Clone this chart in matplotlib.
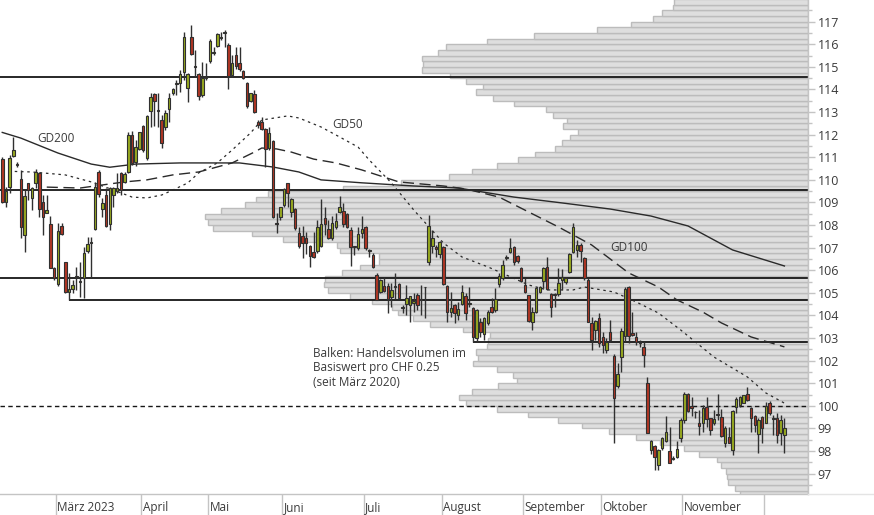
import matplotlib
matplotlib.use("Agg")

import numpy as np
import matplotlib.pyplot as plt
from matplotlib.ticker import MultipleLocator
from matplotlib.lines import Line2D

plt.rcParams["font.family"] = ["Open Sans", "DejaVu Sans"]

# ── daily candles, trading-day index (0 = 1 March 2023) ──────────────────────
first_day = -15
opens = [
    110.91, 109.04, 109.70, 111.06, 110.70, 110.04, 107.56, 109.88, 109.18, 109.85,
    110.32, 109.04, 108.55, 108.05, 106.09, 105.38, 107.97, 106.35, 105.06, 105.16,
    105.72, 105.47, 105.67, 106.87, 107.22, 107.81, 110.36, 108.70, 109.33, 108.03,
    109.33, 109.51, 110.29, 109.92, 110.36, 111.99, 110.81, 111.37, 112.38, 110.98,
    113.05, 113.79, 113.04, 112.65, 112.36, 113.12, 113.86, 114.25, 114.27, 114.79,
    114.08, 116.31, 115.04, 114.69, 113.76, 114.49, 115.28, 115.62, 115.94, 116.27,
    116.49, 115.97, 114.64, 115.53, 115.19, 114.82, 114.27, 113.51, 113.79, 112.58,
    112.58, 112.24, 111.40, 111.72, 108.03, 108.37, 108.89, 109.85, 108.56, 108.70,
    107.64, 107.53, 107.45, 107.09, 106.79, 106.87, 107.09, 108.30, 107.81, 107.41,
    107.90, 108.59, 108.62, 108.48, 107.78, 107.02, 106.97, 107.64, 107.93, 106.85,
    106.68, 105.79, 105.05, 105.32, 105.30, 104.83, 105.28, 105.39, 104.32, 104.49,
    104.46, 104.54, 104.91, 104.70, 105.24, 106.38, 107.07, 107.05, 106.71, 107.05,
    105.32, 104.17, 104.46, 104.02, 104.49, 104.88, 104.49, 104.31, 102.99, 103.72,
    103.16, 103.65, 104.39, 104.24, 105.38, 105.64, 106.56, 106.82, 107.01, 106.64,
    106.08, 105.35, 104.90, 103.70, 104.17, 105.05, 105.52, 106.13, 104.93, 104.92,
    104.95, 105.57, 105.49, 105.94, 106.82, 106.90, 107.12, 106.53, 105.57, 103.65,
    103.36, 103.88, 103.04, 102.48, 103.29, 102.21, 100.88, 102.15, 103.09, 105.28,
    103.24, 103.04, 102.78, 102.59, 101.00, 98.05, 98.23, 97.39, 98.12, 98.46,
    98.01, 97.67, 97.73, 98.60, 99.38, 100.53, 100.00, 99.71, 99.25, 99.23,
    99.97, 99.45, 99.23, 99.61, 99.50, 98.37, 98.61, 98.05, 99.94, 100.04,
    100.14, 100.53, 99.89, 99.56, 98.76, 99.50, 99.23, 100.12, 99.45, 99.45,
    98.79, 98.71,
]
highs = [
    111.03, 109.70, 111.10, 111.91, 110.81, 110.44, 109.55, 109.88, 109.70, 110.47,
    110.36, 109.33, 109.33, 108.40, 106.16, 108.08, 108.08, 106.38, 105.87, 105.57,
    106.16, 106.38, 107.05, 107.49, 107.49, 109.92, 110.44, 109.18, 109.63, 109.70,
    109.67, 110.32, 110.36, 110.36, 112.13, 112.16, 111.77, 112.13, 112.43, 112.87,
    113.83, 113.83, 113.83, 112.87, 113.09, 113.83, 114.05, 114.42, 114.86, 116.56,
    114.72, 116.85, 115.75, 114.72, 115.23, 115.16, 116.23, 115.90, 116.49, 116.56,
    116.63, 116.04, 115.53, 115.90, 115.90, 114.86, 114.35, 113.86, 113.98, 112.65,
    112.80, 112.28, 112.33, 111.77, 108.52, 108.82, 109.63, 109.88, 109.18, 108.74,
    107.93, 107.96, 107.70, 107.12, 107.71, 108.23, 109.15, 108.79, 108.23, 108.38,
    108.52, 109.29, 108.96, 108.52, 107.93, 107.05, 107.93, 108.38, 107.96, 106.93,
    106.75, 105.89, 105.60, 105.72, 105.42, 105.42, 105.89, 105.42, 104.46, 105.35,
    104.88, 104.98, 104.98, 105.35, 105.28, 108.45, 107.78, 107.12, 107.30, 107.07,
    105.35, 105.03, 104.49, 104.61, 105.35, 104.98, 105.28, 104.39, 104.27, 103.87,
    103.95, 104.24, 104.76, 105.20, 105.86, 106.45, 106.67, 107.41, 107.07, 106.67,
    106.16, 105.64, 104.90, 104.39, 105.27, 105.30, 106.16, 106.60, 104.98, 104.98,
    106.08, 106.05, 105.70, 106.75, 108.08, 107.34, 107.19, 106.60, 105.64, 103.95,
    103.80, 104.10, 103.29, 102.99, 103.80, 102.30, 101.89, 103.43, 105.25, 105.31,
    104.17, 103.29, 102.92, 102.89, 101.27, 98.49, 98.27, 98.08, 98.64, 99.56,
    99.08, 97.76, 98.46, 99.45, 100.63, 100.56, 100.41, 99.79, 99.82, 100.04,
    100.41, 99.45, 99.82, 100.53, 99.85, 99.11, 99.08, 99.82, 100.41, 100.45,
    100.49, 100.85, 99.97, 99.60, 99.45, 99.53, 100.19, 100.23, 99.60, 99.67,
    99.60, 99.45,
]
lows = [
    108.96, 108.82, 109.41, 111.03, 110.59, 107.41, 106.82, 109.11, 108.67, 109.63,
    108.37, 107.56, 108.52, 106.09, 105.57, 105.31, 107.56, 104.98, 104.67, 104.98,
    105.13, 104.80, 104.79, 106.75, 105.72, 107.78, 109.26, 108.37, 107.93, 107.78,
    108.82, 109.41, 109.33, 109.85, 110.29, 110.66, 110.63, 111.32, 111.25, 110.88,
    112.36, 112.38, 112.36, 111.40, 112.21, 112.58, 113.76, 113.76, 113.90, 114.42,
    113.46, 115.53, 114.57, 113.54, 113.68, 114.42, 115.16, 115.53, 115.90, 116.19,
    115.90, 114.01, 114.57, 114.89, 114.83, 114.46, 113.17, 113.46, 112.95, 112.28,
    112.21, 110.59, 111.32, 108.30, 107.64, 108.23, 108.82, 108.82, 108.37, 107.78,
    106.97, 106.53, 106.70, 106.16, 106.56, 106.75, 107.05, 107.56, 107.38, 107.36,
    107.83, 108.52, 107.93, 107.86, 106.20, 106.68, 106.90, 107.41, 106.90, 106.60,
    106.09, 104.69, 104.98, 105.05, 104.10, 104.39, 104.73, 104.73, 104.10, 104.02,
    103.73, 104.17, 104.24, 104.02, 103.87, 106.23, 106.75, 106.60, 106.53, 105.35,
    103.73, 103.95, 103.68, 103.80, 104.46, 103.80, 104.39, 102.81, 102.84, 103.06,
    102.90, 103.58, 104.09, 104.17, 105.27, 105.57, 106.45, 106.78, 106.23, 106.31,
    105.49, 104.98, 103.72, 103.36, 104.09, 104.98, 105.20, 105.12, 103.95, 104.39,
    104.86, 105.13, 105.40, 105.89, 106.75, 106.60, 106.38, 105.57, 103.69, 102.48,
    102.91, 102.62, 102.33, 102.33, 102.84, 98.37, 100.78, 101.52, 102.84, 102.80,
    103.10, 102.70, 102.62, 101.74, 98.79, 97.87, 97.17, 97.17, 98.05, 98.42,
    97.46, 97.61, 97.68, 98.42, 99.23, 99.75, 99.53, 99.45, 98.71, 98.86,
    99.08, 98.71, 99.16, 99.38, 98.64, 98.20, 98.35, 97.83, 99.67, 99.97,
    100.12, 100.23, 98.86, 98.86, 97.93, 98.37, 99.23, 99.60, 98.71, 98.35,
    98.27, 97.90,
]
closes = [
    109.04, 109.52, 110.95, 111.32, 110.66, 107.93, 109.29, 109.55, 109.63, 110.33,
    108.70, 108.34, 108.67, 106.12, 105.65, 107.74, 107.59, 105.03, 105.17, 105.35,
    105.76, 105.51, 106.75, 107.15, 107.24, 109.70, 109.36, 108.96, 107.97, 109.66,
    109.63, 109.63, 109.55, 110.26, 111.99, 110.73, 111.47, 112.10, 111.32, 112.83,
    113.68, 113.49, 113.02, 111.65, 112.97, 113.61, 114.01, 114.29, 114.69, 116.31,
    114.69, 115.56, 115.00, 113.73, 114.52, 114.55, 116.16, 115.67, 116.46, 116.31,
    116.52, 114.60, 115.19, 115.04, 114.89, 114.49, 113.28, 113.83, 112.99, 112.43,
    112.24, 111.35, 112.06, 108.37, 108.00, 108.79, 109.58, 109.41, 109.14, 107.86,
    107.07, 107.19, 107.19, 106.63, 106.57, 107.90, 108.03, 108.03, 107.41, 108.08,
    108.18, 108.79, 108.03, 107.93, 107.02, 107.00, 107.61, 107.81, 107.00, 106.87,
    106.13, 104.69, 105.57, 105.10, 104.74, 105.13, 105.30, 104.76, 104.32, 104.79,
    104.88, 104.64, 104.46, 104.68, 105.22, 107.96, 107.41, 106.93, 107.27, 105.38,
    104.17, 104.35, 104.10, 104.29, 105.03, 104.10, 104.49, 103.03, 104.24, 103.28,
    103.87, 104.14, 104.17, 104.71, 105.74, 106.23, 106.58, 106.97, 106.35, 106.42,
    105.54, 105.05, 103.77, 104.17, 105.20, 105.27, 106.11, 105.15, 104.36, 104.90,
    105.42, 105.71, 105.64, 106.72, 107.90, 107.12, 106.85, 105.64, 103.72, 102.92,
    103.76, 102.80, 102.70, 102.84, 102.92, 100.34, 101.41, 103.33, 105.16, 103.07,
    103.14, 102.84, 102.76, 102.25, 98.79, 98.46, 97.73, 98.05, 98.57, 98.86,
    97.49, 97.70, 98.08, 99.38, 100.53, 99.79, 99.90, 99.70, 99.11, 99.89,
    99.41, 98.94, 99.41, 99.60, 98.67, 99.01, 98.35, 99.78, 100.29, 100.41,
    100.47, 100.26, 99.45, 99.16, 99.38, 99.01, 100.00, 99.67, 99.40, 98.71,
    99.38, 99.01,
]

# ── moving averages (sampled along the curve) ────────────────────────────────
gd200_day = [-15, -10, 0, 9, 14, 21, 33, 49, 58, 65, 71, 82, 96, 108, 123, 136, 149, 160, 170, 182, 196]
gd200_val = [112.10, 111.85, 111.19, 110.70, 110.56, 110.70, 110.75, 110.75, 110.57, 110.35, 110.00,
             109.87, 109.73, 109.64, 109.24, 108.98, 108.71, 108.40, 107.96, 106.90, 106.19]
gd100_day = [-3, 6, 18, 24, 31, 38, 47, 53, 55, 59, 63, 69, 75, 82, 92, 104, 110, 119, 127, 135,
             144, 154, 162, 167, 174, 179, 187, 196]
gd100_val = [109.68, 109.64, 109.91, 110.00, 110.22, 110.35, 110.75, 111.23, 111.41, 111.37, 111.23,
             110.92, 110.75, 110.44, 109.91, 109.73, 109.60, 109.24, 108.58, 107.92, 107.12, 105.88,
             105.26, 104.69, 104.15, 103.67, 103.05, 102.61]
gd50_day = [-15, -7, 2, 9, 15, 20, 24, 28, 31, 35, 38, 43, 47, 52, 55, 62, 65, 71, 76, 81, 84, 90,
            96, 104, 109, 116, 121, 127, 132, 139, 142, 150, 156, 162, 168, 177, 186, 191, 196]
gd50_val = [110.39, 110.35, 110.22, 109.91, 109.55, 109.24, 109.20, 109.33, 109.55, 109.86, 110.31,
            110.75, 111.32, 112.08, 112.65, 112.83, 112.74, 112.34, 111.90, 111.45, 110.88, 109.86,
            108.67, 107.21, 106.59, 106.15, 105.79, 105.35, 105.13, 105.13, 105.26, 105.04, 104.60,
            104.11, 103.36, 102.16, 101.28, 100.57, 100.12]

# ── volume profile: traded volume per CHF 0.25 bucket (relative units) ───────
vol_bucket_low = 96.0
vol_bucket_step = 0.25
vol_profile = [
    68, 73, 80, 81, 82, 87, 91, 109, 124, 148, 172, 199, 226, 250, 280, 311,
    342, 349, 336, 310, 291, 295, 311, 335, 330, 332, 321, 320, 318, 345, 378, 395,
    410, 416, 436, 458, 480, 484, 483, 466, 448, 429, 429, 468, 471, 525, 556, 595,
    600, 603, 587, 563, 552, 540, 465, 407, 359, 336, 311, 290, 273, 253, 246, 238,
    230, 245, 241, 255, 262, 294, 315, 332, 325, 342, 358, 386, 385, 386, 370, 362,
    321, 274, 211, 177, 155, 146, 135, 134,
]

# ── support / resistance lines (level, first day or None = whole range) ──────
support_level = [114.55, 109.55, 105.65, 104.67, 102.81]
support_from = [None, None, None, 3, 112]
ref_level = 100.0

month_start = [0, 23, 41, 61, 83, 104, 126, 147, 169, 191]
month_labels = ["März 2023", "April", "Mai", "Juni", "Juli", "August",
                "September", "Oktober", "November", ""]

X_MIN, X_MAX = -15.61, 202.36
Y_MIN, Y_MAX = 96.10, 117.96

UP = "#98aa20"
DOWN = "#b23624"
INK = "#2a2a2a"
GREY = "#c4c4c4"
TXT = "#3a3a3a"

fig = plt.figure(figsize=(8.74, 5.15), dpi=100)
ax = fig.add_axes([0, 21 / 515, 808 / 874, 494 / 515])
ax_vol = ax.twiny()

# volume bars behind everything
levels = vol_bucket_low + vol_bucket_step * np.arange(len(vol_profile))
ax_vol.barh(levels, vol_profile, height=vol_bucket_step, align="edge",
            color="#dedede", edgecolor="#bcbcbc", linewidth=1.0)
ax_vol.set_xlim(808, 0)
ax_vol.axis("off")
ax.set_zorder(ax_vol.get_zorder() + 1)
ax.patch.set_visible(False)

# horizontal lines
for lvl, start in zip(support_level, support_from):
    if start is None:
        ax.axhline(lvl, color="#161616", lw=1.3, zorder=2)
    else:
        ax.hlines(lvl, start, X_MAX, color="#161616", lw=1.3, zorder=2)
ax.axhline(ref_level, color="#161616", lw=1.0, ls=(0, (3.2, 2.4)), zorder=2)

# moving averages
ax.plot(gd200_day, gd200_val, color=INK, lw=1.0, zorder=3)
ax.plot(gd100_day, gd100_val, color=INK, lw=1.0, ls=(0, (8, 4)), zorder=3)
ax.plot(gd50_day, gd50_val, color=INK, lw=0.9, ls=(0, (2, 3)), zorder=3)

# candles
days = first_day + np.arange(len(opens))
o = np.array(opens)
c = np.array(closes)
ax.vlines(days, lows, highs, color="#303030", lw=1.0, zorder=4)
body = np.where(np.abs(c - o) < 0.04, 0.04, c - o)
colors = np.where(c >= o, UP, DOWN)
ax.bar(days, body, bottom=o, width=0.68, color=colors, edgecolor="#303030",
       linewidth=0.8, zorder=5)

# labels
ax.text(-5.6, 111.81, "GD200", fontsize=8.5, color=TXT, va="center", ha="left")
ax.text(74.0, 112.47, "GD50", fontsize=8.5, color=TXT, va="center", ha="left")
ax.text(148.9, 106.99, "GD100", fontsize=8.5, color=TXT, va="center", ha="left")
ax.text(68.8, 102.62, "Balken: Handelsvolumen im\nBasiswert pro CHF 0.25\n(seit März 2020)",
        fontsize=8.5, color=TXT, va="top", ha="left", linespacing=1.15)

ax.set_xlim(X_MIN, X_MAX)
ax.set_ylim(Y_MIN, Y_MAX)

# axes styling
for side in ("top", "left"):
    ax.spines[side].set_visible(False)
for side in ("right", "bottom"):
    ax.spines[side].set_color(GREY)
    ax.spines[side].set_linewidth(1.0)

ax.yaxis.tick_right()
ax.yaxis.set_major_locator(MultipleLocator(1))
ax.yaxis.set_minor_locator(MultipleLocator(0.5))
ax.tick_params(axis="y", which="major", length=5, width=1, color=GREY,
               labelsize=9, labelcolor=TXT, pad=2)
ax.tick_params(axis="y", which="minor", length=3.2, width=1, color=GREY)

ax.set_xticks([m - 0.5 for m in month_start])
ax.set_xticklabels([])
ax.tick_params(axis="x", which="major", length=15.5, width=1, color=GREY)
xform = ax.get_xaxis_transform()
for m, lab in zip(month_start, month_labels):
    ax.text(m - 0.1, -0.027, lab, transform=xform, fontsize=8.5, color=TXT,
            ha="left", va="center")

# axis line continues under the price scale
fig.add_artist(Line2D([808 / 874, 1], [21 / 515, 21 / 515], color="#e4e4e4", lw=1))

fig.savefig("out.png", dpi=100)
